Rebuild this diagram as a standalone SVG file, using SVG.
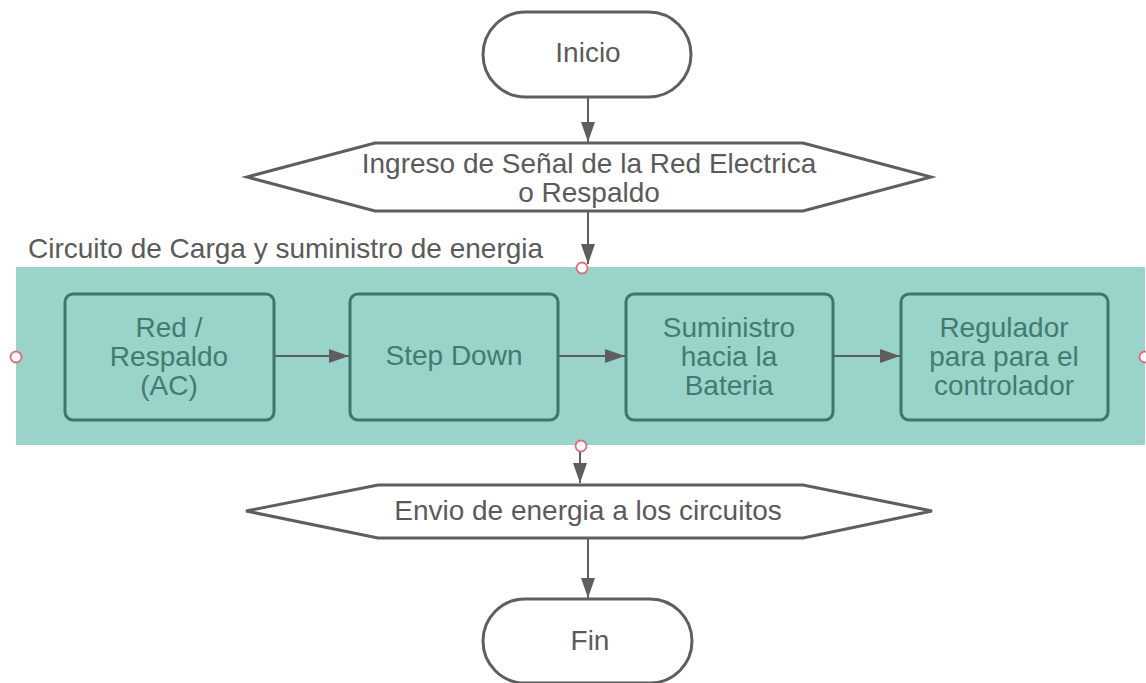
<svg xmlns="http://www.w3.org/2000/svg" width="1146" height="683" viewBox="0 0 1146 683">
<defs>
<style>
.t{font-family:"Liberation Sans",Arial,sans-serif;font-size:28px;fill:#5a5a5a;text-anchor:middle}
.bt{font-family:"Liberation Sans",Arial,sans-serif;font-size:28px;fill:#457a70;text-anchor:middle}
.sh{fill:#ffffff;stroke:#5e5e5e;stroke-width:3}
.box{fill:#99d3ca;stroke:#3f766c;stroke-width:3}
.ln{fill:none;stroke:#5e5e5e;stroke-width:2}
.h{fill:#ffffff;stroke:#e46a78;stroke-width:1.8}
</style>
<marker id="ar" viewBox="0 0 20 14" refX="20" refY="7" markerWidth="20" markerHeight="14" markerUnits="userSpaceOnUse" orient="auto">
<path d="M0,0 L20,7 L0,14 Z" fill="#5e5e5e"/>
</marker>
</defs>
<rect width="1146" height="683" fill="#ffffff"/>
<g id="container">
<rect x="16" y="267" width="1129" height="178" fill="#99d3ca"/>
<text class="t" x="28" y="258" style="text-anchor:start">Circuito de Carga y suministro de energia</text>
</g>
<g id="connectors">
<line class="ln" x1="588" y1="98" x2="588" y2="142" marker-end="url(#ar)"/>
<line class="ln" x1="588" y1="212" x2="588" y2="264" marker-end="url(#ar)"/>
<line class="ln" x1="580" y1="452" x2="580" y2="483" marker-end="url(#ar)"/>
<line class="ln" x1="588" y1="539" x2="588" y2="598" marker-end="url(#ar)"/>
<line class="ln" x1="275" y1="356" x2="349" y2="356" marker-end="url(#ar)"/>
<line class="ln" x1="559" y1="356" x2="625" y2="356" marker-end="url(#ar)"/>
<line class="ln" x1="834" y1="356" x2="900" y2="356" marker-end="url(#ar)"/>
</g>
<g id="inicio">
<rect class="sh" x="483" y="12" width="208" height="85" rx="42.5"/>
<text class="t" x="588" y="62">Inicio</text>
</g>
<g id="ingreso">
<polygon class="sh" points="247,177 375,143 803,143 931,177 803,211 375,211"/>
<text class="t" x="589" y="173">Ingreso de Señal de la Red Electrica</text>
<text class="t" x="589" y="202">o Respaldo</text>
</g>
<g id="red">
<rect class="box" x="65" y="294" width="209" height="126" rx="8"/>
<text class="bt" x="169" y="337">Red /</text>
<text class="bt" x="169" y="366">Respaldo</text>
<text class="bt" x="169" y="395">(AC)</text>
</g>
<g id="stepdown">
<rect class="box" x="350" y="294" width="208" height="126" rx="8"/>
<text class="bt" x="454" y="365">Step Down</text>
</g>
<g id="suministro">
<rect class="box" x="626" y="294" width="207" height="126" rx="8"/>
<text class="bt" x="729" y="337">Suministro</text>
<text class="bt" x="729" y="366">hacia la</text>
<text class="bt" x="729" y="395">Bateria</text>
</g>
<g id="regulador">
<rect class="box" x="901" y="294" width="207" height="126" rx="8"/>
<text class="bt" x="1004" y="337">Regulador</text>
<text class="bt" x="1004" y="366">para para el</text>
<text class="bt" x="1004" y="395">controlador</text>
</g>
<g id="handles">
<circle class="h" cx="582" cy="268" r="5.5"/>
<circle class="h" cx="581" cy="446" r="5.5"/>
<circle class="h" cx="16" cy="357" r="5.5"/>
<circle class="h" cx="1145" cy="357" r="5.5"/>
</g>
<g id="envio">
<polygon class="sh" points="246,511 378,485 803,485 932,511 803,538 378,538"/>
<text class="t" x="588" y="520">Envio de energia a los circuitos</text>
</g>
<g id="fin">
<rect class="sh" x="483" y="599" width="209" height="84" rx="42"/>
<text class="t" x="590" y="650">Fin</text>
</g>
</svg>
